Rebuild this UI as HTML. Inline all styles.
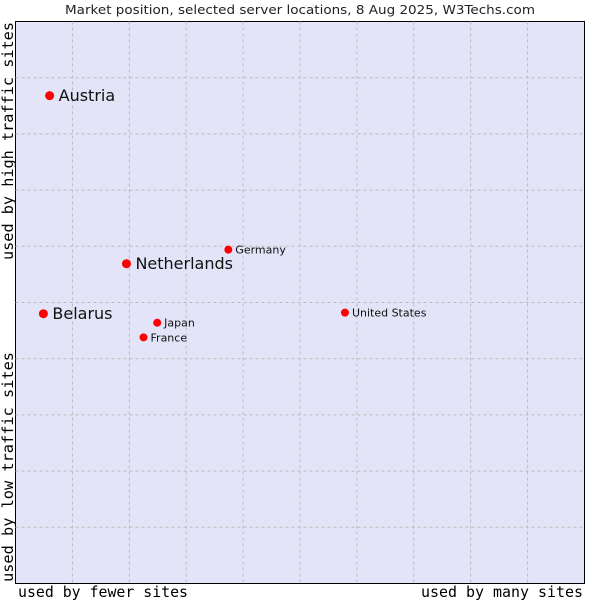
<!DOCTYPE html>
<html><head><meta charset="utf-8"><style>
body{margin:0;background:#fff;width:600px;height:600px;overflow:hidden}
svg{display:block}
</style></head><body>
<svg width="600" height="600" xmlns="http://www.w3.org/2000/svg">
<text x="65" y="14" textLength="470" lengthAdjust="spacingAndGlyphs" font-family="DejaVu Sans, sans-serif" font-size="12.5" fill="#222">Market position, selected server locations, 8 Aug 2025, W3Techs.com</text>
<rect x="15.5" y="21.5" width="569" height="562" fill="#e4e4f8" stroke="#000"/>
<g id="grid"></g>
<g id="pts"></g>
<text x="18" y="597" textLength="170" lengthAdjust="spacingAndGlyphs" font-family="DejaVu Sans Mono, monospace" font-size="15" fill="#000">used by fewer sites</text>
<text x="421" y="597" textLength="162" lengthAdjust="spacingAndGlyphs" font-family="DejaVu Sans Mono, monospace" font-size="15" fill="#000">used by many sites</text>
<text transform="translate(13,582) rotate(-90)" textLength="230" lengthAdjust="spacingAndGlyphs" font-family="DejaVu Sans Mono, monospace" font-size="15" fill="#000">used by low traffic sites</text>
<text transform="translate(13,260) rotate(-90)" textLength="238" lengthAdjust="spacingAndGlyphs" font-family="DejaVu Sans Mono, monospace" font-size="15" fill="#000">used by high traffic sites</text>
</svg>
<script>
const names=["Austria","Netherlands","Belarus","Germany","Japan","France","United States"];
const xVals=[0.6,1.95,0.49,3.74,2.49,2.25,5.79];
const yVals=[8.68,5.69,4.80,5.94,4.64,4.38,4.82];
const big=[true,true,true,false,false,false,false];
const L=15.5,T=21.5,W=569,H=562;
const sx=v=>L+v/10*W, sy=v=>T+H-v/10*H;
const NS="http://www.w3.org/2000/svg";
const g=document.getElementById('grid'), p=document.getElementById('pts');
for(let i=1;i<10;i++){
  let a=document.createElementNS(NS,'line');
  a.setAttribute('x1',sx(i));a.setAttribute('x2',sx(i));a.setAttribute('y1',T);a.setAttribute('y2',T+H);
  a.setAttribute('stroke','#bbb');a.setAttribute('stroke-dasharray','3,3');
  
  
  g.appendChild(a);
  let b=document.createElementNS(NS,'line');
  b.setAttribute('y1',sy(i));b.setAttribute('y2',sy(i));b.setAttribute('x1',L);b.setAttribute('x2',L+W);
  b.setAttribute('stroke','#bbb');b.setAttribute('stroke-dasharray','3,3');
  
  
  g.appendChild(b);
}
names.forEach((n,i)=>{
  const x=sx(xVals[i]),y=sy(yVals[i]);
  const c=document.createElementNS(NS,'circle');
  c.setAttribute('cx',x);c.setAttribute('cy',y);c.setAttribute('r',big[i]?4.5:4);c.setAttribute('fill','#f00');
  
  
  p.appendChild(c);
  const t=document.createElementNS(NS,'text');
  t.setAttribute('x',x+(big[i]?9:7));t.setAttribute('y',y+(big[i]?5.5:4));
  t.setAttribute('font-family','DejaVu Sans, sans-serif');t.setAttribute('font-size',big[i]?16:11);t.setAttribute('fill','#111');
  t.textContent=n;
  
  
  p.appendChild(t);
});
</script>
</body></html>
